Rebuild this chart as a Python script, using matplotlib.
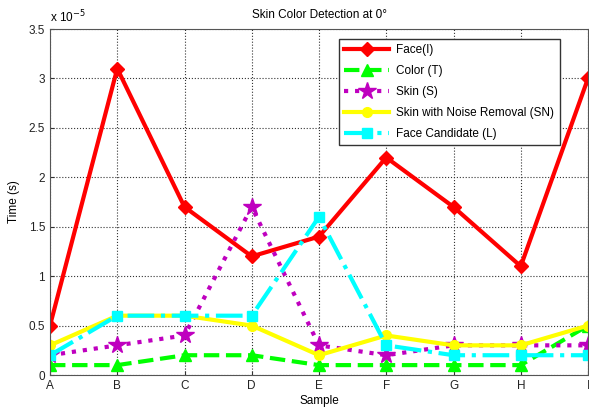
import numpy as np
import matplotlib.pyplot as plt

plt.rcParams['font.family'] = ['Liberation Sans', 'DejaVu Sans']
plt.rcParams['font.size'] = 8.5

# samples and timing series (units of 1e-5 s)
samples = ['A', 'B', 'C', 'D', 'E', 'F', 'G', 'H', 'I']
face = [0.5, 3.1, 1.7, 1.2, 1.4, 2.2, 1.7, 1.1, 3.0]
color = [0.1, 0.1, 0.2, 0.2, 0.1, 0.1, 0.1, 0.1, 0.5]
skin = [0.2, 0.3, 0.4, 1.7, 0.3, 0.2, 0.3, 0.3, 0.3]
skin_nr = [0.3, 0.6, 0.6, 0.5, 0.2, 0.4, 0.3, 0.3, 0.5]
candidate = [0.2, 0.6, 0.6, 0.6, 1.6, 0.3, 0.2, 0.2, 0.2]

x = np.arange(len(samples))

fig = plt.figure(figsize=(5.89, 4.09), dpi=100)
ax = fig.add_axes([50/589, 34/409, 538/589, 346/409])

ax.plot(x, face, color='red', lw=3, marker='D', ms=7, label='Face(I)')
ax.plot(x, color, color='#00ff00', lw=3, ls='--', marker='^', ms=9, label='Color (T)')
ax.plot(x, skin, color='#bf00bf', lw=3, ls=':', marker='*', ms=13, label='Skin (S)')
ax.plot(x, skin_nr, color='yellow', lw=3, marker='o', ms=7, label='Skin with Noise Removal (SN)')
ax.plot(x, candidate, color='cyan', lw=3, ls='-.', marker='s', ms=7,
        mfc='cyan', label='Face Candidate (L)')

ax.set_xlim(0, 8)
ax.set_ylim(0, 3.5)
ax.set_xticks(x)
ax.set_xticklabels(samples)
ax.set_yticks(np.arange(0, 3.6, 0.5))
ax.set_yticklabels(['0', '0.5', '1', '1.5', '2', '2.5', '3', '3.5'])
ax.grid(True, ls=':', color='#333333', lw=0.8)
ax.tick_params(direction='in', length=3, colors='#333333', labelcolor='#222222')
for s in ax.spines.values():
    s.set_color('#555555')

ax.text(0, 1.012, r'x 10$^{-5}$', transform=ax.transAxes, ha='left', va='bottom')
ax.set_title('Skin Color Detection at 0°', fontsize=8.5, pad=8)
ax.set_xlabel('Sample', labelpad=2)
ax.set_ylabel('Time (s)', labelpad=6)

leg = ax.legend(loc='upper right', bbox_to_anchor=(0.958, 0.988), fancybox=False,
                framealpha=1, edgecolor='#333333', handlelength=3.8,
                borderpad=0.45, labelspacing=0.75, handletextpad=0.6)

fig.savefig('out.png', dpi=100)
